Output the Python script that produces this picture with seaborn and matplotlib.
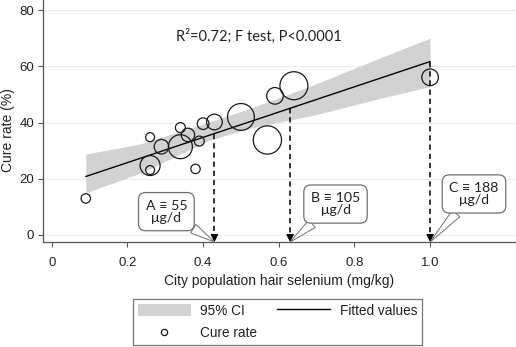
import numpy as np
import pandas as pd
import matplotlib
matplotlib.use("Agg")
import matplotlib.pyplot as plt
from matplotlib.patches import Patch
from matplotlib.lines import Line2D
import seaborn as sns

# ---------------- data ----------------
hair_se = [0.09, 0.26, 0.26, 0.26, 0.29, 0.34, 0.34, 0.36, 0.39, 0.38,
           0.40, 0.43, 0.50, 0.57, 0.59, 0.64, 1.00]
cure_rate = [13.0, 24.7, 23.1, 34.8, 31.4, 31.4, 38.2, 35.6, 33.4, 23.5,
             39.6, 40.2, 42.0, 33.8, 49.5, 53.1, 56.1]
weight = [22, 100, 20, 20, 53, 144, 25, 45, 25, 22,
          34, 62, 180, 200, 69, 196, 69]

fit_x = [0.09, 1.00]
fit_y = [20.8, 61.7]

ci_x = [0.09, 0.234, 0.419, 0.525, 0.692, 0.868, 1.00]
ci_hi = [28.8, 32.4, 40.3, 45.1, 53.4, 63.0, 70.0]
ci_lo = [15.0, 22.0, 33.8, 38.0, 42.6, 48.6, 52.8]

ref_x = [0.43, 0.63, 1.00]
ref_labels = ["A \u2261 55\n\u03bcg/d", "B \u2261 105\n\u03bcg/d", "C \u2261 188\n\u03bcg/d"]
box_pos = [(0.303, 8.3), (0.750, 11.0), (1.116, 14.6)]

x_ticks = [0, 0.2, 0.4, 0.6, 0.8, 1.0]
x_ticklabels = ["0", "0.2", "0.4", "0.6", "0.8", "1.0"]
y_ticks = [0, 20, 40, 60, 80]

stat_text = "R\u00b2=0.72; F test, P<0.0001"

# ---------------- style ----------------
sns.set_theme(style="white")
plt.rcParams["font.family"] = ["Liberation Sans", "DejaVu Sans"]
TXT = "#222222"

fig = plt.figure(figsize=(5.16, 3.47), dpi=100)
ax = fig.add_axes([0.0828, 0.3026, 1 - 0.0828, 1 - 0.3026])

ylo, yhi = -2.5, 83.6
ax.set_xlim(-0.0238, 1.227)
ax.set_ylim(ylo, yhi)

# grid
for yt in y_ticks:
    ax.axhline(yt, color="#e4eef0", lw=0.8, zorder=0)

# CI band
ax.fill_between(ci_x, ci_lo, ci_hi, color="#d2d2d2", lw=0, zorder=1)

# fitted line
fit_df = pd.DataFrame({"x": fit_x, "y": fit_y})
sns.lineplot(data=fit_df, x="x", y="y", color="black", lw=1.0, ax=ax, zorder=3)

# scatter with weights
df = pd.DataFrame({"x": hair_se, "y": cure_rate, "w": weight})
k = 2.07
sns.scatterplot(data=df, x="x", y="y", size="w",
                sizes=(k * min(weight), k * max(weight)),
                size_norm=(min(weight), max(weight)),
                facecolor="none", edgecolor="#1a1a1a", linewidth=0.9,
                legend=False, ax=ax, zorder=4)

# dashed reference lines with arrowheads and callouts
for xr, lab, (bx, by) in zip(ref_x, ref_labels, box_pos):
    ytop = np.interp(xr, fit_x, fit_y)
    ax.plot([xr, xr], [ytop, ylo + 1.8], color="black", lw=1.1,
            ls=(0, (3.5, 2.5)), zorder=5)
    ax.annotate("", xy=(xr, ylo), xytext=(xr, ylo + 2.2),
                arrowprops=dict(arrowstyle="-|>,head_length=0.35,head_width=0.18",
                                color="black", lw=1.0, shrinkA=0, shrinkB=0),
                zorder=6)
    ax.annotate(lab, xy=(xr, ylo), xytext=(bx, by), ha="center", va="center",
                fontsize=10.2, color=TXT, family=["Lato", "DejaVu Sans"],
                linespacing=1.0,
                bbox=dict(boxstyle="round,pad=0.5,rounding_size=0.5",
                          fc="white", ec="#707070", lw=0.9),
                arrowprops=dict(arrowstyle="wedge,tail_width=0.7,shrink_factor=0.5",
                                fc="white", ec="#707070", lw=0.7,
                                shrinkA=0, shrinkB=0),
                zorder=7)

# stats text
ax.text(0.548, 70.5, stat_text, ha="center", va="center", fontsize=10.5,
        color=TXT, family=["Lato", "DejaVu Sans"])

# axes
ax.set_xticks(x_ticks)
ax.set_xticklabels(x_ticklabels)
ax.set_yticks(y_ticks)
ax.tick_params(axis="both", direction="out", length=3.6, width=0.8,
               colors="#555555", labelcolor=TXT, labelsize=9.5,
               bottom=True, left=True)
ax.tick_params(axis="y", pad=2.5)
ax.tick_params(axis="x", pad=7)
for side in ["top", "right"]:
    ax.spines[side].set_visible(False)
for side in ["left", "bottom"]:
    ax.spines[side].set_color("#555555")
    ax.spines[side].set_linewidth(0.9)
ax.set_xlabel("City population hair selenium (mg/kg)", fontsize=10, color=TXT)
ax.set_ylabel("Cure rate (%)", fontsize=10, color=TXT)
axw_px = 516 * (1 - 0.0828)
axh_px = 347 * (1 - 0.3026)
ax.yaxis.set_label_coords((7.5 - 42.7) / axw_px, (242 - 130) / axh_px)
ax.xaxis.set_label_coords((279 - 42.7) / axw_px, -(281 - 242) / axh_px)
ax.xaxis.label.set_va("center")
ax.yaxis.label.set_va("center")

# legend
handles = [Patch(facecolor="#d2d2d2", edgecolor="none", label="95% CI"),
           Line2D([], [], ls="none", marker="o", mfc="none", mec="#1a1a1a",
                  ms=4.5, mew=0.9, label="Cure rate"),
           Line2D([], [], color="black", lw=1.0, label="Fitted values")]
leg = fig.legend(handles=handles, ncol=2, loc="upper left",
                 bbox_to_anchor=(133 / 516, 1 - 299 / 347),
                 fontsize=9.8, frameon=True, fancybox=False,
                 edgecolor="#555555", handlelength=3.9, handleheight=1.0,
                 columnspacing=1.45, handletextpad=0.7, labelspacing=0.6,
                 borderpad=0.35, borderaxespad=0)
leg.get_frame().set_linewidth(0.9)
for t in leg.get_texts():
    t.set_color(TXT)

fig.savefig("out.png", dpi=100)
